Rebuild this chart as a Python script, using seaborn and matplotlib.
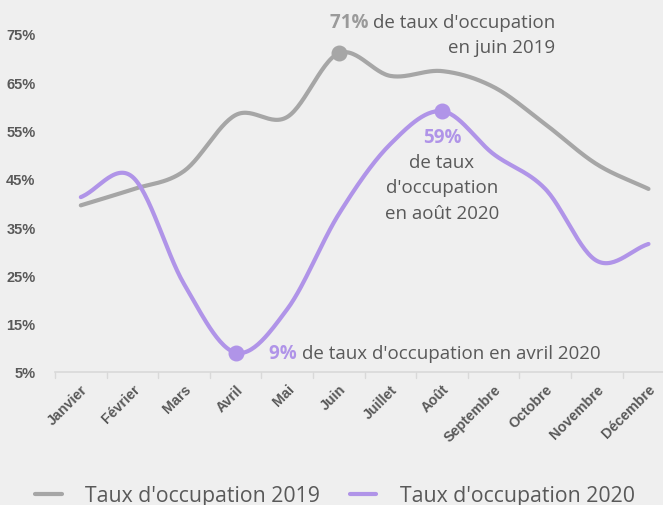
import matplotlib
matplotlib.use("Agg")
import matplotlib.pyplot as plt
import seaborn as sns
import numpy as np
import pandas as pd

months = ["Janvier", "Février", "Mars", "Avril", "Mai", "Juin", "Juillet",
          "Août", "Septembre", "Octobre", "Novembre", "Décembre"]
taux_2019 = [39.5, 42.8, 46.6, 58.2, 57.8, 71.0, 66.3, 67.3, 64.0, 56.3, 48.0, 42.9]
taux_2020 = [41.2, 45.4, 23.2, 9.0, 18.0, 37.7, 52.2, 59.0, 50.1, 42.9, 28.0, 31.5]
y_ticks = [5, 15, 25, 35, 45, 55, 65, 75]

GREY = "#a6a6a6"
PURPLE = "#b094e8"
TEXT = "#595959"
BG = "#efefef"


def smooth(values, n=30):
    """Catmull-Rom curve through the points (Excel-like smoothed line)."""
    x = np.arange(len(values), dtype=float)
    y = np.asarray(values, dtype=float)
    px = np.concatenate([[2 * x[0] - x[1]], x, [2 * x[-1] - x[-2]]])
    py = np.concatenate([[2 * y[0] - y[1]], y, [2 * y[-1] - y[-2]]])
    xs, ys = [], []
    t = np.linspace(0, 1, n, endpoint=False)
    for i in range(1, len(px) - 2):
        for arr, out in ((px, xs), (py, ys)):
            p0, p1, p2, p3 = arr[i - 1], arr[i], arr[i + 1], arr[i + 2]
            out.extend(0.5 * ((2 * p1) + (-p0 + p2) * t
                              + (2 * p0 - 5 * p1 + 4 * p2 - p3) * t ** 2
                              + (-p0 + 3 * p1 - 3 * p2 + p3) * t ** 3))
    xs.append(x[-1])
    ys.append(y[-1])
    return np.array(xs), np.array(ys)


sns.set_style("white")
plt.rcParams["font.family"] = ["Open Sans", "DejaVu Sans"]

fig = plt.figure(figsize=(6.63, 5.06), dpi=100, facecolor=BG)
ax = fig.add_axes([0.083, 0.263, 0.934, 0.668], facecolor=BG)

frames = []
for label, vals in (("Taux d'occupation 2019", taux_2019), ("Taux d'occupation 2020", taux_2020)):
    sx, sy = smooth(vals)
    frames.append(pd.DataFrame({"x": sx, "y": sy, "serie": label}))
df = pd.concat(frames, ignore_index=True)

sns.lineplot(data=df, x="x", y="y", hue="serie", palette=[GREY, PURPLE],
             linewidth=3, sort=False, estimator=None, ax=ax, clip_on=False)

# highlighted points
ax.scatter([5], [taux_2019[5]], s=110, color=GREY, zorder=5, clip_on=False)
ax.scatter([3, 7], [taux_2020[3], taux_2020[7]], s=110, color=PURPLE, zorder=5, clip_on=False)

ax.set_xlim(-0.5, 11.5)
ax.set_ylim(5, 75)
ax.set_yticks(y_ticks)
ax.set_yticklabels([f"{v}%" for v in y_ticks], family="Liberation Sans",
                   fontweight="bold", color=TEXT, fontsize=10.5)
ax.set_xticks(range(len(months)))
ax.set_xticklabels(months, rotation=45, ha="right", rotation_mode="anchor",
                   family="Liberation Sans", fontweight="bold", color=TEXT, fontsize=10.3)
ax.tick_params(axis="x", length=0, pad=7)
ax.tick_params(axis="y", length=0, pad=14)
# category boundary ticks along the axis
for b in np.arange(-0.5, 12, 1):
    ax.plot([b, b], [5, 3.8], color="#d9d9d9", lw=1, clip_on=False)
for s in ["top", "right", "left"]:
    ax.spines[s].set_visible(False)
ax.spines["bottom"].set_color("#d9d9d9")
ax.spines["bottom"].set_linewidth(1.2)
ax.set_xlabel("")
ax.set_ylabel("")

fs = 13.5
# 2019 annotation
t1 = ax.annotate("de taux d'occupation", xy=(9.2, 77.5), xycoords="data",
                 ha="right", va="center", fontsize=fs, color=TEXT, annotation_clip=False)
ax.annotate("71% ", xy=(0, 0.5), xycoords=t1, ha="right", va="center",
            fontsize=fs, color="#9a9a9a", fontweight="bold")
ax.text(9.2, 72.3, "en juin 2019", ha="right", va="center", fontsize=fs, color=TEXT)

# 2020 peak annotation
ax.text(7, 53.6, "59%", ha="center", va="center", fontsize=fs, color=PURPLE, fontweight="bold")
ax.text(7, 48.4, "de taux", ha="center", va="center", fontsize=fs, color=TEXT)
ax.text(7, 43.2, "d'occupation", ha="center", va="center", fontsize=fs, color=TEXT)
ax.text(7, 38.0, "en août 2020", ha="center", va="center", fontsize=fs, color=TEXT)

# 2020 low annotation
t3 = ax.text(3.65, 9.0, "9% ", ha="left", va="center", fontsize=fs, color=PURPLE, fontweight="bold")
ax.annotate("de taux d'occupation en avril 2020", xy=(1, 0.5), xycoords=t3,
            ha="left", va="center", fontsize=fs, color=TEXT)

handles, labels = ax.get_legend_handles_labels()
ax.legend(handles, labels, loc="center", bbox_to_anchor=(0.505, 0.018), bbox_transform=fig.transFigure,
          ncol=2, frameon=False, fontsize=15.3, labelcolor=TEXT, handlelength=1.25,
          columnspacing=1.4, handletextpad=1.1)

fig.savefig("out.png", dpi=100, facecolor=BG)
